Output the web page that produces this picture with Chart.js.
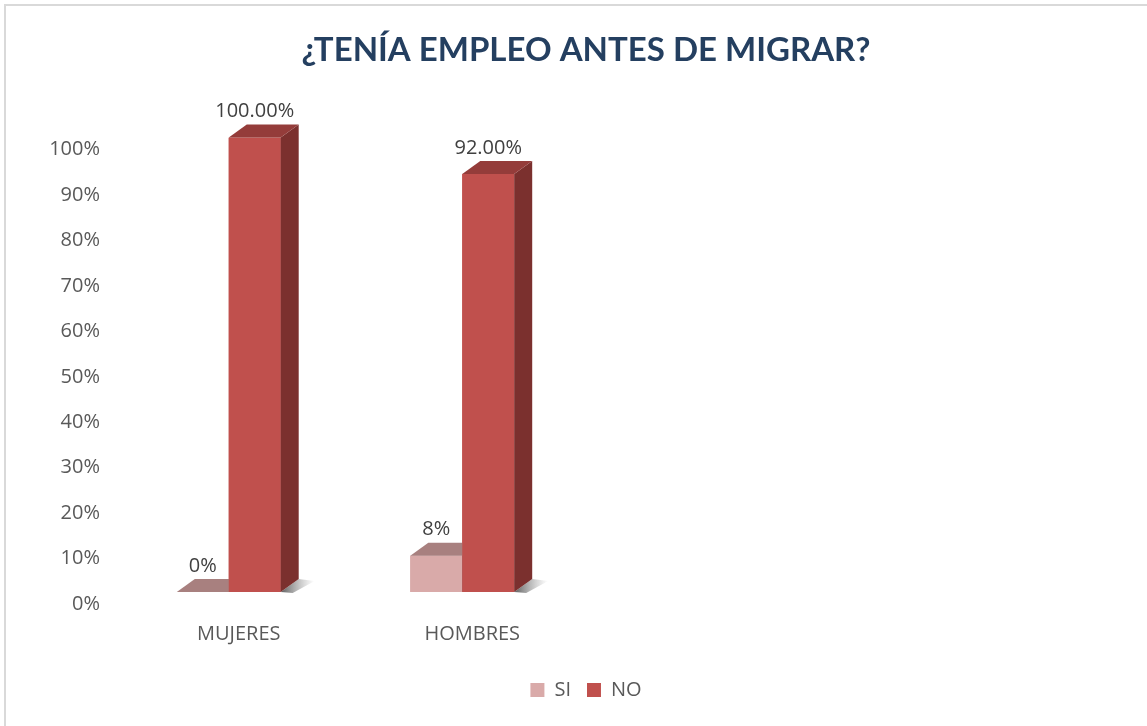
<!DOCTYPE html>
<html>
<head>
<meta charset="utf-8">
<script src="https://cdn.jsdelivr.net/npm/chart.js@4.4.1/dist/chart.umd.min.js"></script>
<style>
  html, body { margin: 0; padding: 0; background: #fff; overflow: hidden; }
  #frame { position: absolute; left: 4px; top: 4px; width: 1160px; height: 760px; border: 2px solid #d9d9d9; }
  #chart { display: block; }
</style>
</head>
<body>
<div id="frame"><canvas id="chart" width="1160" height="740"></canvas></div>
<script>
// data
const categories = ['MUJERES', 'HOMBRES'];
const emptySlots = ['', ''];          // the plot keeps room for two more groups
const siValues = [0, 8];
const noValues = [100, 92];
const siDecimals = 0;
const noDecimals = 2;

const siColors = { front: '#d9aaa9', top: '#a8807f', side: '#8f6564' };
const noColors = { front: '#c0504d', top: '#943c3a', side: '#7b302e' };
const depth = { dx: 18, dy: 13 };

function poly(ctx, pts) {
    ctx.beginPath();
    ctx.moveTo(pts[0][0], pts[0][1]);
    for (let i = 1; i < pts.length; i++) ctx.lineTo(pts[i][0], pts[i][1]);
    ctx.closePath();
    ctx.fill();
}

// draw the extruded sides + top of each bar, and the value labels
const bar3d = {
    id: 'bar3d',
    beforeDatasetsDraw(chart) {
        const ctx = chart.ctx;
        const meta = chart.getDatasetMeta(1);
        ctx.save();
        meta.data.forEach(bar => {
            const { x, base, width } = bar.getProps(['x', 'base', 'width'], true);
            const r = x + width / 2;
            const g = ctx.createLinearGradient(r, 0, r + depth.dx + 16, 0);
            g.addColorStop(0, 'rgba(40,40,40,0.75)');
            g.addColorStop(1, 'rgba(120,120,120,0)');
            ctx.fillStyle = g;
            poly(ctx, [[r, base], [r + depth.dx, base - depth.dy], [r + depth.dx + 16, base - depth.dy + 2], [r + 12, base + 1]]);
        });
        ctx.restore();
    },
    afterDatasetsDraw(chart) {
        const ctx = chart.ctx;
        ctx.save();
        const cols = [siColors, noColors];
        [0, 1].forEach(di => {
            const c = cols[di];
            chart.getDatasetMeta(di).data.forEach(bar => {
                const { x, y, base, width } = bar.getProps(['x', 'y', 'base', 'width'], true);
                const l = x - width / 2, r = x + width / 2;
                ctx.fillStyle = c.front;
                ctx.fillRect(l, y, width, base - y);
                ctx.fillStyle = c.side;
                poly(ctx, [[r, y], [r + depth.dx, y - depth.dy], [r + depth.dx, base - depth.dy], [r, base]]);
                ctx.fillStyle = c.top;
                poly(ctx, [[l, y], [r, y], [r + depth.dx, y - depth.dy], [l + depth.dx, y - depth.dy]]);
            });
        });
        ctx.font = '20px "Open Sans"';
        ctx.fillStyle = '#404040';
        ctx.textAlign = 'center';
        ctx.textBaseline = 'middle';
        [[0, siValues, siDecimals], [1, noValues, noDecimals]].forEach(([di, vals, dec]) => {
            chart.getDatasetMeta(di).data.forEach((bar, i) => {
                const { x, y } = bar.getProps(['x', 'y'], true);
                ctx.fillText(vals[i].toFixed(dec) + '%', x, y - 26);
            });
        });
        ctx.restore();
    }
};

const ctx = document.getElementById('chart').getContext('2d');

const chart = new Chart(ctx, {
    type: 'bar',
    data: {
        labels: categories.concat(emptySlots),
        datasets: [
            {
                label: 'SI',
                data: siValues,
                backgroundColor: siColors.front,
                borderWidth: 0
            },
            {
                label: 'NO',
                data: noValues,
                backgroundColor: noColors.front,
                borderWidth: 0
            }
        ]
    },
    options: {
        responsive: false,
        animation: false,
        layout: { padding: { left: 0, right: 0, top: 0, bottom: 36 } },
        datasets: { bar: { barPercentage: 1, categoryPercentage: 0.445 } },
        scales: {
            x: {
                grid: { display: false },
                border: { display: false },
                ticks: {
                    color: '#595959',
                    font: { family: '"Open Sans"', size: 20 },
                    padding: 22,
                    labelOffset: 10,
                    maxRotation: 0,
                    autoSkip: false
                },
                afterFit(scale) { scale.height = 72; }
            },
            y: {
                min: 0,
                max: 100,
                grid: { display: false, drawTicks: false },
                border: { display: false },
                ticks: {
                    stepSize: 10,
                    color: '#595959',
                    font: { family: '"Open Sans"', size: 20 },
                    padding: 12,
                    labelOffset: 12,
                    callback: v => v + '%'
                },
                afterFit(scale) { scale.width = 106; }
            },
            // empty space on the right of the plot
            spare: {
                type: 'linear',
                position: 'right',
                display: true,
                grid: { display: false },
                border: { display: false },
                ticks: { display: false },
                afterFit(scale) { scale.width = 120; }
            }
        },
        plugins: {
            title: {
                display: true,
                text: '¿TENÍA EMPLEO ANTES DE MIGRAR?',
                color: '#243f60',
                font: { family: 'Lato', size: 33, weight: 'bold' },
                padding: { top: 25, bottom: 67 }
            },
            legend: {
                position: 'bottom',
                labels: {
                    color: '#595959',
                    font: { family: '"Open Sans"', size: 20 },
                    boxWidth: 14,
                    boxHeight: 14,
                    padding: 16
                }
            },
            tooltip: { enabled: false }
        }
    },
    plugins: [bar3d]
});
</script>
</body>
</html>
